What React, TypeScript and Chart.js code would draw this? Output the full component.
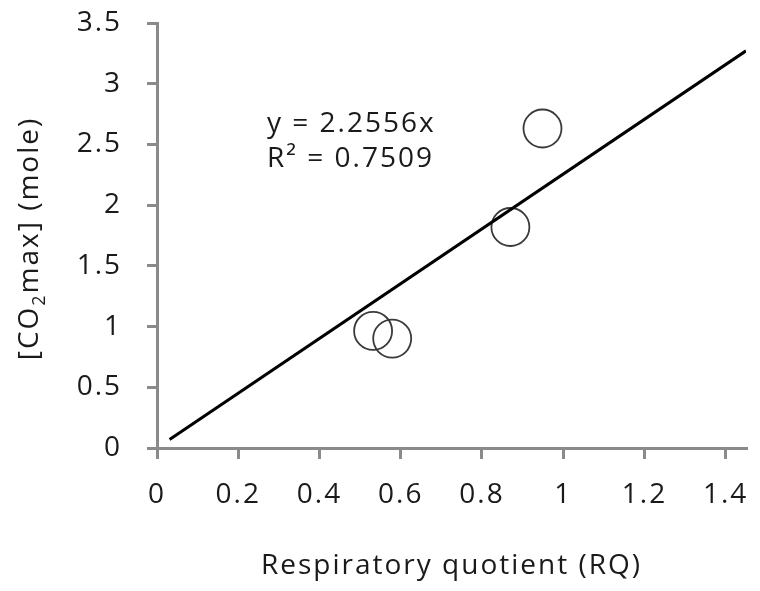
import React, { useEffect, useRef } from "react";
import { Chart, registerables } from "chart.js";

Chart.register(...registerables);

const rqValues = [0.532, 0.579, 0.87, 0.949];
const co2MaxValues = [0.964, 0.901, 1.82, 2.631];
const trendSlope = 2.2556;
const trendRange = [0.031, 1.45];
const xTickValues = [0, 0.2, 0.4, 0.6, 0.8, 1, 1.2, 1.4];
const yTickValues = [0, 0.5, 1, 1.5, 2, 2.5, 3, 3.5];
const equationLines = ["y = 2.2556x", "R² = 0.7509"];
const xAxisTitle = "Respiratory quotient (RQ)";
const yAxisTitleParts = ["[CO", "2", "max] (mole)"];

const FONT = "'Open Sans', sans-serif";
const TEXT_COLOR = "#1a1a1a";
const AXIS_COLOR = "#8a8a8a";
const SPACING = "2px";

export default function App() {
  const ref = useRef<HTMLCanvasElement>(null);

  useEffect(() => {
    document.body.style.margin = "0";
    const canvas = ref.current!;

    const textPlugin = {
      id: "customText",
      beforeDraw(chart: any) {
        chart.ctx.letterSpacing = SPACING;
      },
      afterDraw(chart: any) {
        const ctx = chart.ctx as CanvasRenderingContext2D & { letterSpacing: string };
        ctx.save();
        ctx.letterSpacing = SPACING;
        ctx.fillStyle = TEXT_COLOR;
        ctx.font = `500 28px ${FONT}`;
        ctx.textAlign = "left";
        ctx.textBaseline = "alphabetic";
        ctx.fillText(equationLines[0], 267, 131.5);
        ctx.fillText(equationLines[1], 267, 166.5);

        // y-axis title with subscript
        const mainFont = `500 28px ${FONT}`;
        const subFont = `500 18px ${FONT}`;
        ctx.font = mainFont;
        const w0 = ctx.measureText(yAxisTitleParts[0]).width;
        const w2 = ctx.measureText(yAxisTitleParts[2]).width;
        ctx.font = subFont;
        const w1 = ctx.measureText(yAxisTitleParts[1]).width;
        const total = w0 + w1 + w2;
        const cy = (chart.chartArea.top + chart.chartArea.bottom) / 2 + 3;
        ctx.translate(38, cy);
        ctx.rotate(-Math.PI / 2);
        let x = -total / 2;
        ctx.font = mainFont;
        ctx.fillText(yAxisTitleParts[0], x, 0);
        x += w0;
        ctx.font = subFont;
        ctx.fillText(yAxisTitleParts[1], x, 7);
        x += w1;
        ctx.font = mainFont;
        ctx.fillText(yAxisTitleParts[2], x, 0);
        ctx.restore();
      },
    };

    const tickFont = { family: FONT, size: 28, weight: "500" as any };

    const chart = new Chart(canvas, {
      type: "scatter",
      data: {
        datasets: [
          {
            label: "Linear trend",
            data: trendRange.map((x) => ({ x, y: trendSlope * x })),
            showLine: true,
            borderColor: "#000000",
            borderWidth: 3,
            pointRadius: 0,
            fill: false,
          },
          {
            label: "Samples",
            data: rqValues.map((x, i) => ({ x, y: co2MaxValues[i] })),
            showLine: false,
            pointRadius: 19,
            pointBorderWidth: 1.8,
            pointBorderColor: "#3a3a3a",
            pointBackgroundColor: "rgba(0,0,0,0)",
            borderColor: "#3a3a3a",
            backgroundColor: "rgba(0,0,0,0)",
          },
        ],
      },
      options: {
        animation: false,
        responsive: false,
        maintainAspectRatio: false,
        events: [],
        layout: {
          padding: { left: 0, top: 23, right: 14, bottom: 0 },
          autoPadding: false,
        } as any,
        plugins: {
          legend: { display: false },
          tooltip: { enabled: false },
        },
        scales: {
          x: {
            type: "linear",
            position: "bottom",
            min: 0,
            max: 1.45,
            afterBuildTicks: (s: any) => {
              s.ticks = xTickValues.map((v) => ({ value: v }));
            },
            afterFit: (s: any) => {
              s.height = 143;
              s.paddingLeft = 0;
              s.paddingRight = 0;
              s.paddingTop = 0;
              s.paddingBottom = 0;
            },
            ticks: {
              color: TEXT_COLOR,
              font: tickFont,
              padding: 19,
              autoSkip: false,
              maxRotation: 0,
              callback: (v: any) => String(v),
            },
            grid: {
              drawOnChartArea: false,
              drawTicks: true,
              tickLength: 11,
              color: AXIS_COLOR,
              lineWidth: 3,
            },
            border: { display: true, color: AXIS_COLOR, width: 3 },
            title: {
              display: true,
              text: xAxisTitle,
              color: TEXT_COLOR,
              font: tickFont,
              padding: { top: 0, bottom: 8 },
            },
          },
          y: {
            type: "linear",
            position: "left",
            min: 0,
            max: 3.5,
            afterBuildTicks: (s: any) => {
              s.ticks = yTickValues.map((v) => ({ value: v }));
            },
            afterFit: (s: any) => {
              s.width = 157;
              s.paddingLeft = 0;
              s.paddingRight = 0;
              s.paddingTop = 0;
              s.paddingBottom = 0;
            },
            ticks: {
              color: TEXT_COLOR,
              font: tickFont,
              padding: 25,
              autoSkip: false,
              callback: (v: any) => String(v),
            },
            grid: {
              drawOnChartArea: false,
              drawTicks: true,
              tickLength: 10,
              color: AXIS_COLOR,
              lineWidth: 3,
            },
            border: { display: true, color: AXIS_COLOR, width: 3 },
          },
        },
      },
      plugins: [textPlugin],
    });

    return () => {
      chart.destroy();
    };
  }, []);

  return (
    <div style={{ width: 760, height: 591 }}>
      <canvas ref={ref} width={760} height={591} style={{ display: "block" }} />
    </div>
  );
}
